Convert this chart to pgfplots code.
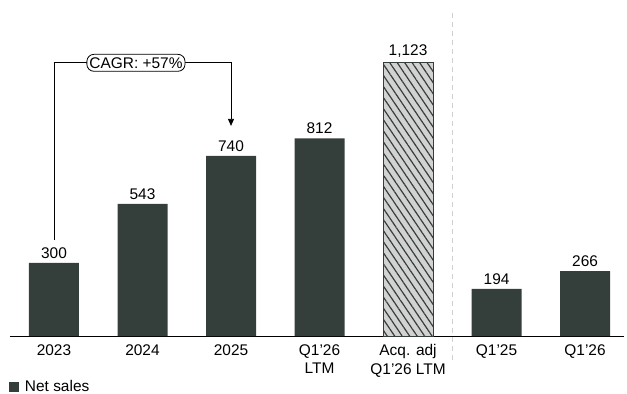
\documentclass[border=0pt]{standalone}
\usepackage{fontspec}
\setmainfont{Liberation Sans}
\usepackage{pgfplots}
\pgfplotsset{compat=1.18}
\usetikzlibrary{patterns.meta, arrows.meta}
\definecolor{barc}{HTML}{343F3C}
\definecolor{hatchbg}{HTML}{D2D2D2}
\definecolor{sepc}{HTML}{CFCFCF}
\newcommand{\lf}{\fontsize{15.5}{18.5}\selectfont}
\begin{document}
\begin{tikzpicture}[font=\lf]
\begin{axis}[
  scale only axis, width=614bp, height=336bp,
  xmin=-0.497, xmax=6.44, ymin=0, ymax=1380,
  axis x line=bottom, axis y line=none,
  axis line style={-, black, line width=0.9pt},
  xtick={0,...,6},
  xticklabels={2023,2024,2025,{Q1’26\\LTM},{Acq. adj\\Q1’26 LTM},Q1’25,Q1’26},
  x tick label style={align=center, font=\lf, yshift=-5bp},
  major tick length=0pt,
  ybar, bar width=50bp, bar shift=0pt,
  nodes near coords,
  nodes near coords style={font=\lf, text=black, yshift=1bp},
  /pgf/number format/assume math mode=true,
  /pgf/number format/1000 sep={,},
  clip=false,
  legend style={at={(rel axis cs:-0.002,-0.152)}, anchor=west, draw=none, fill=none,
    font=\lf, inner sep=0pt, legend cell align=left,
    nodes={inner xsep=5.5bp}},
  legend image code/.code={\fill[barc] (0bp,-5.2bp) rectangle (10.5bp,5.2bp);},
]
\addplot[fill=barc, draw=none] coordinates {(0,300) (1,543) (2,740) (3,812) (5,194) (6,266)};
\addlegendentry{Net sales}
\addplot[fill=hatchbg, draw=barc, line width=1pt,
  postaction={pattern={Lines[angle=-56, distance=6.2bp, line width=1.2bp]}, pattern color=barc}]
  coordinates {(4,1123)};
\draw[sepc, line width=0.9pt, dash pattern=on 5bp off 4bp] (axis cs:4.5,1327) -- ([yshift=-24bp]axis cs:4.5,0);
\draw[black, line width=0.8pt, -{Triangle[length=7bp, width=6bp]}]
  (axis cs:0,394) |- (axis cs:2,1122) -- (axis cs:2,863);
\node[fill=white, draw=black, line width=0.8pt, rounded corners=7bp, inner xsep=2.5bp, inner ysep=3bp]
  at (axis cs:0.926,1122) {CAGR: +57\%};
\end{axis}
\pgfresetboundingbox
\useasboundingbox (current axis.south west) ++(-10bp,-58bp) rectangle ([xshift=3bp]current axis.north east);
\end{tikzpicture}
\end{document}
